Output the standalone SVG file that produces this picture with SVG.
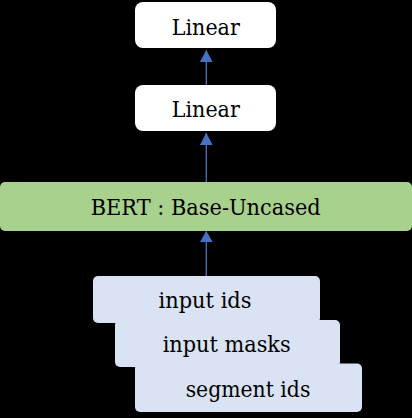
<svg xmlns="http://www.w3.org/2000/svg" width="412" height="418" viewBox="0 0 412 418">
<style>
.t{font-family:"DejaVu Serif","Liberation Serif",serif;font-size:23px;fill:#000;text-anchor:middle}
.w{fill:#fff}
.g{fill:#a9d18e}
.b{fill:#dae3f3}
.c{stroke:#4472c4;stroke-width:1.3;fill:none}
</style>
<rect width="412" height="418" fill="#000"/>
<g id="connectors">
<line class="c" x1="206.3" y1="85" x2="206.3" y2="50.5"/>
<path d="M200,62 L206.3,50 L212.6,62 Z" fill="#4472c4"/>
<line class="c" x1="206.3" y1="182" x2="206.3" y2="133"/>
<path d="M200,145 L206.3,132.7 L212.6,145 Z" fill="#4472c4"/>
<line class="c" x1="206.3" y1="276" x2="206.3" y2="231.5"/>
<path d="M200,242 L206.3,231 L212.6,242 Z" fill="#4472c4"/>
</g>
<g id="linear2">
<rect class="w" x="135" y="2" width="141" height="46" rx="8"/>
<text class="t" x="205.8" y="35" textLength="68" lengthAdjust="spacingAndGlyphs">Linear</text>
</g>
<g id="linear1">
<rect class="w" x="135" y="85" width="141" height="46" rx="8"/>
<text class="t" x="205.8" y="117" textLength="68" lengthAdjust="spacingAndGlyphs">Linear</text>
</g>
<g id="bert">
<rect class="g" x="0" y="182" width="412" height="49" rx="5"/>
<text class="t" x="205.7" y="215" textLength="230" lengthAdjust="spacingAndGlyphs">BERT : Base-Uncased</text>
</g>
<g id="input_ids">
<rect class="b" x="93" y="276" width="227" height="47" rx="5"/>
<text class="t" x="205" y="307.5" textLength="93" lengthAdjust="spacingAndGlyphs">input ids</text>
</g>
<g id="input_masks">
<rect class="b" x="115" y="320" width="225" height="47" rx="5"/>
<text class="t" x="226.7" y="352" textLength="128" lengthAdjust="spacingAndGlyphs">input masks</text>
</g>
<g id="segment_ids">
<rect class="b" x="135" y="363.5" width="227" height="48.5" rx="5"/>
<text class="t" x="248" y="397" textLength="124.7" lengthAdjust="spacingAndGlyphs">segment ids</text>
</g>
</svg>
